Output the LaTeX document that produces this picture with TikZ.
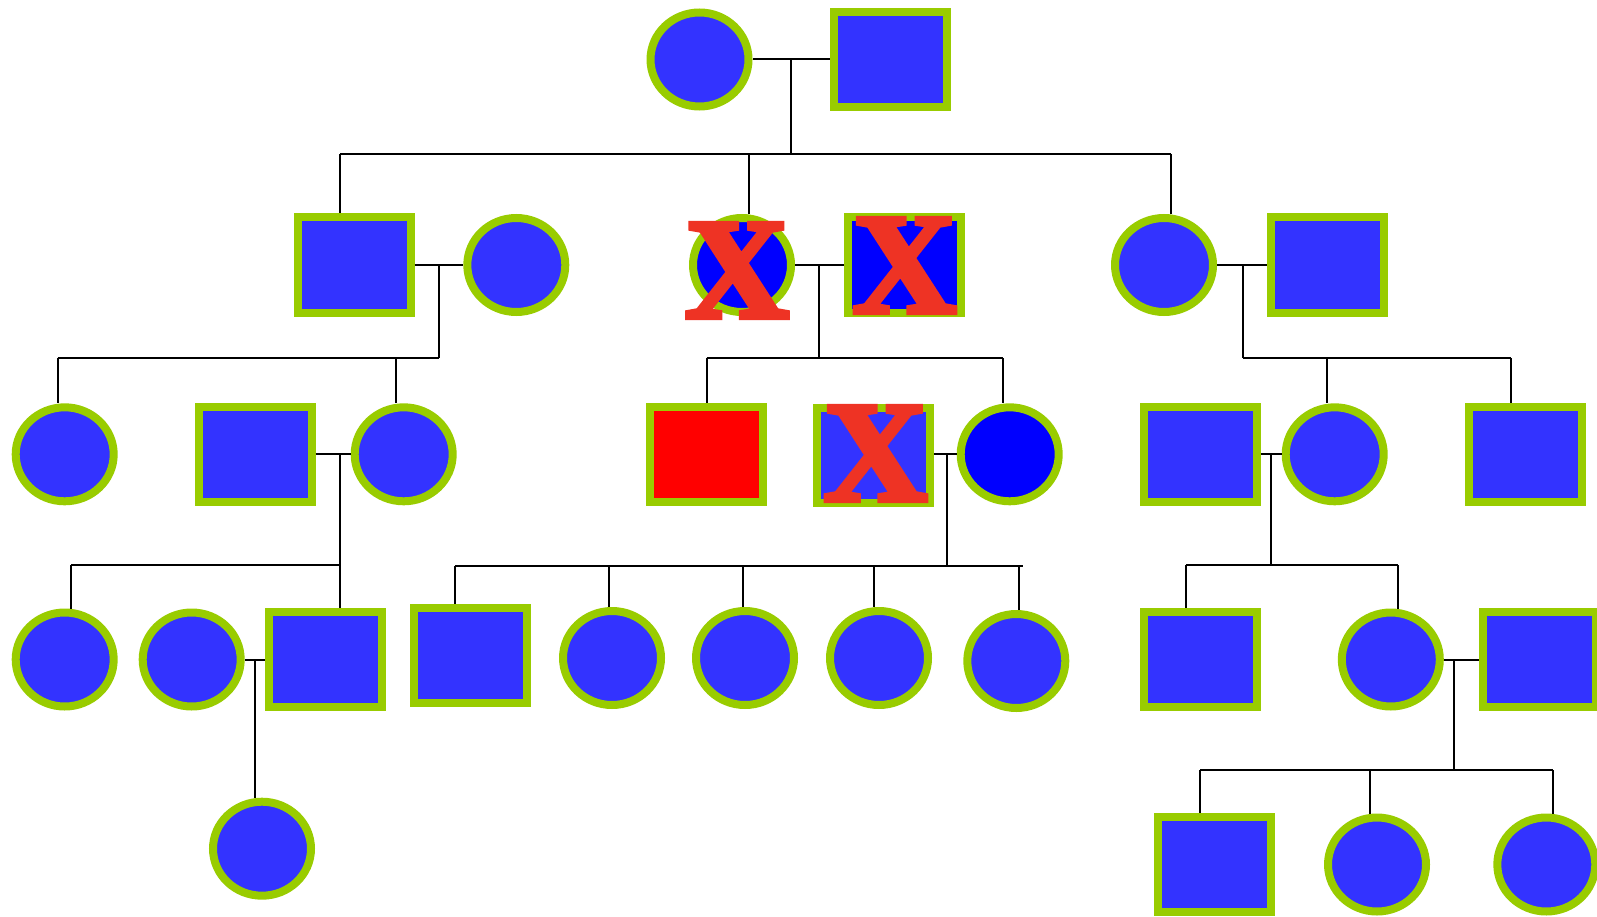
\documentclass[tikz,border=0pt]{standalone}
\usepackage{fontspec}
\setmainfont{Liberation Serif}
\newfontface\crossfont{Liberation Serif Bold}[FakeBold=3.5]
\usetikzlibrary{shapes.geometric}
\definecolor{fillblue}{RGB}{51,51,255}
\definecolor{pureblue}{RGB}{0,0,255}
\definecolor{rimgreen}{RGB}{153,204,0}
\definecolor{xred}{RGB}{238,51,36}
\tikzset{
  fem/.style={ellipse, draw=rimgreen, line width=8pt, fill=fillblue, inner sep=0pt, minimum width=98pt, minimum height=94pt},
  mal/.style={rectangle, draw=rimgreen, line width=8pt, fill=fillblue, inner sep=0pt, minimum width=113pt, minimum height=95pt},
  dark/.style={fill=pureblue},
  link/.style={draw=black, line width=2pt},
  cross/.style={text=xred, inner sep=0pt, font=\fontsize{144}{144}\crossfont}
}
\newcommand\dropto[3]{\coordinate (tmpd) at (#1,#2); \draw[link] (tmpd) -- (tmpd |- #3.north);}
\begin{document}
\begin{tikzpicture}[x=1pt,y=-1pt]
\useasboundingbox (0,0) rectangle (1597,917);
% generation 1
\node[fem] (g1f) at (699.5,59.5) {};
\node[mal] (g1m) at (890,59.5) {};
% generation 2
\node[mal] (a) at (354,265) {};
\node[fem] (b) at (516.3,265) {};
\node[fem,dark] (c) at (742,265) {};
\node[mal,dark] (d) at (904.2,265) {};
\node[fem] (e) at (1164,265) {};
\node[mal] (f) at (1327.6,265) {};
% generation 3
\node[fem] (g3a) at (64.7,454.3) {};
\node[mal] (g3b) at (255.2,454.3) {};
\node[fem] (g3c) at (403.7,454.3) {};
\node[mal,fill=red] (g3d) at (706.8,454.3) {};
\node[mal] (g3e) at (873.3,455.5) {};
\node[fem,dark] (g3f) at (1009.7,454.3) {};
\node[mal] (g3g) at (1200.5,454.3) {};
\node[fem] (g3h) at (1334.7,454.3) {};
\node[mal] (g3i) at (1525,454.3) {};
% generation 4
\node[fem] (g4a) at (64.7,659.5) {};
\node[fem] (g4b) at (191.7,659.5) {};
\node[mal] (g4c) at (325.5,659.5) {};
\node[mal] (g4d) at (470,655.3) {};
\node[fem] (g4e) at (612,658) {};
\node[fem] (g4f) at (745,658) {};
\node[fem] (g4g) at (879,658) {};
\node[fem] (g4h) at (1016.3,661) {};
\node[mal] (g4i) at (1200.5,659.5) {};
\node[fem] (g4j) at (1390.8,659.5) {};
\node[mal] (g4k) at (1539.5,659.5) {};
% generation 5
\node[fem] (g5a) at (262,848.7) {};
\node[mal] (g5b) at (1214.7,864.5) {};
\node[fem] (g5c) at (1377,864.5) {};
\node[fem] (g5d) at (1546.3,864.5) {};
% crosses
\node[cross] (xc) at (737,270.5) {X};
\node[cross] (xd) at (904.5,265.5) {X};
\node[cross] (xe) at (875.5,453.5) {X};
% couple lines and descent lines
\draw[link] (g1f) -- (g1m);
\draw[link] (791,59.5) -- (791,154);
\draw[link] (340,154) -- (1171,154);
\dropto{340}{154}{a}
\dropto{749}{154}{c}
\dropto{1171}{154}{e}
\draw[link] (a) -- (b);
\draw[link] (438.7,265) -- (438.7,358);
\draw[link] (57.7,358) -- (438.7,358);
\dropto{57.7}{358}{g3a}
\dropto{396}{358}{g3c}
\draw[link] (c) -- (d);
\draw[link] (819.3,265) -- (819.3,358);
\draw[link] (706.7,358) -- (1002.7,358);
\dropto{706.7}{358}{g3d}
\dropto{1002.7}{358}{g3f}
\draw[link] (e) -- (f);
\draw[link] (1242.6,265) -- (1242.6,358);
\draw[link] (1242.6,358) -- (1511,358);
\dropto{1327.3}{358}{g3h}
\dropto{1511}{358}{g3i}
\draw[link] (g3b) -- (g3c);
\draw[link] (340,454.3) -- (340,565);
\draw[link] (71.3,565) -- (340,565);
\dropto{71.3}{565}{g4a}
\dropto{340}{565}{g4c}
\draw[link] (g3e.east |- g3f.west) -- (g3f.west);
\draw[link] (946.7,454.3) -- (946.7,566);
\draw[link] (455,566) -- (1022.7,566);
\dropto{455}{566}{g4d}
\dropto{609}{566}{g4e}
\dropto{742.7}{566}{g4f}
\dropto{874}{566}{g4g}
\dropto{1019}{566}{g4h}
\draw[link] (g3g) -- (g3h);
\draw[link] (1271,454.3) -- (1271,565);
\draw[link] (1186,565) -- (1397.7,565);
\dropto{1186}{565}{g4i}
\dropto{1397.7}{565}{g4j}
\draw[link] (g4b) -- (g4c);
\dropto{255.3}{659.5}{g5a}
\draw[link] (g4j) -- (g4k);
\draw[link] (1454.3,659.5) -- (1454.3,770);
\draw[link] (1200,770) -- (1553.3,770);
\dropto{1200}{770}{g5b}
\dropto{1370}{770}{g5c}
\dropto{1553.3}{770}{g5d}
\end{tikzpicture}
\end{document}
